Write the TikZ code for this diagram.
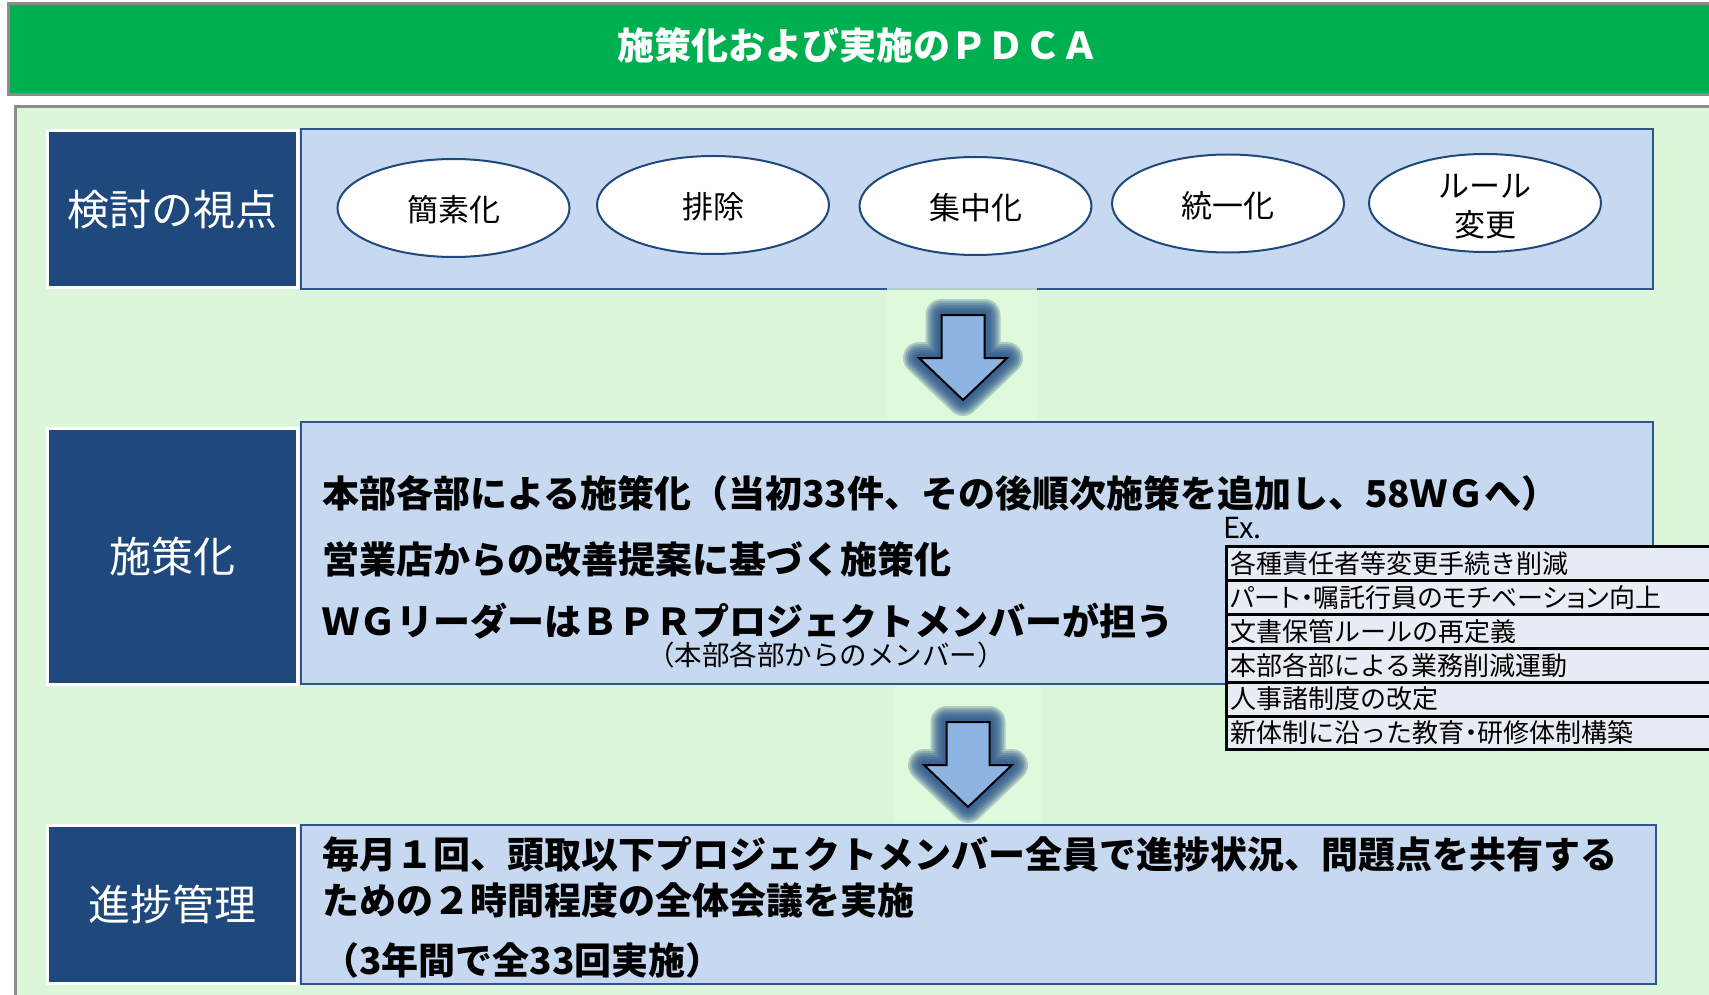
\documentclass[tikz,border=0pt]{standalone}
\usepackage{fontspec}
\newfontfamily\jp{Noto Sans CJK JP}
\usetikzlibrary{shapes.geometric}
\definecolor{bannergreen}{HTML}{00AF50}
\definecolor{graybd}{HTML}{8C8C8C}
\definecolor{panelgreen}{HTML}{DCF6D9}
\definecolor{plaingreen}{HTML}{E0FBDC}
\definecolor{darkblue}{HTML}{1F497D}
\definecolor{lightblue}{HTML}{C6D9F1}
\definecolor{boxbd}{HTML}{2F5490}
\definecolor{ellbd}{HTML}{1F497D}
\definecolor{arrowblue}{HTML}{8DB4E2}
\definecolor{glowblue}{HTML}{2A5389}
\definecolor{rowfill}{HTML}{E8EDF5}
\newcommand\pdcaarrow[2]{%
  \foreach \w in {32,28,24,20,16,12,8}{
    \draw[glowblue, line width=\w, draw opacity=0.27, line join=round]
      (#1-21.5,#2) -- (#1+21.5,#2) -- (#1+21.5,#2+43) -- (#1+44,#2+43) -- (#1,#2+85)
      -- (#1-44,#2+43) -- (#1-21.5,#2+43) -- cycle;
  }
  \draw[black, fill=arrowblue, line width=2, line join=miter]
      (#1-21.5,#2) -- (#1+21.5,#2) -- (#1+21.5,#2+43) -- (#1+44,#2+43) -- (#1,#2+85)
      -- (#1-44,#2+43) -- (#1-21.5,#2+43) -- cycle;
}
\tikzset{
  labelbox/.style={draw=white, line width=3, fill=darkblue, text=white, inner sep=0, outer sep=0,
    minimum width=250, font=\jp\fontsize{42}{50}\selectfont},
  contentbox/.style={draw=boxbd, line width=2, fill=lightblue, inner sep=0, outer sep=0},
  oval/.style={ellipse, draw=ellbd, line width=2, fill=white, minimum width=232, minimum height=98,
    inner sep=0, align=center, font=\jp\fontsize{31}{39}\selectfont},
  ovaltext/.style={inner sep=0, align=center, font=\jp\fontsize{31}{39}\selectfont},
  bigtext/.style={anchor=west, inner sep=0, font=\jp\bfseries\fontsize{37}{44}\selectfont},
  rowbox/.style={anchor=north west, draw=black, line width=3, fill=rowfill, text width=482,
    inner xsep=4, inner ysep=0, minimum height=33.9, align=left, font=\jp\fontsize{26}{30}\selectfont}
}
\begin{document}
\begin{tikzpicture}[x=1pt,y=-1pt]
\useasboundingbox (0,0) rectangle (1709,995);
\fill[white] (0,0) rectangle (1709,995);
% banner
\draw[draw=graybd, line width=3, fill=bannergreen] (8.5,3.5) rectangle (1715,95);
\node[text=white, inner sep=0, font=\jp\bfseries\fontsize{37}{44}\selectfont] (title) at (858,45) {施策化および実施のＰＤＣＡ};
% panel
\draw[draw=graybd, line width=3, fill=panelgreen] (15.5,106.5) rectangle (1715,1000);

% row 1
\node[labelbox, minimum height=157] (lab1) at (172,209.5) {検討の視点};
\node[contentbox, minimum width=1352, minimum height=160] (box1) at (977,209) {};
\node[oval] (e1) at (453.5,208) {};
\node[ovaltext] (e1t) at (453.5,210) {簡素化};
\node[oval] (e2) at (713,205) {};
\node[ovaltext] (e2t) at (713,207) {排除};
\node[oval] (e3) at (975.5,206) {};
\node[ovaltext] (e3t) at (975.5,208) {集中化};
\node[oval] (e4) at (1228,203.5) {};
\node[ovaltext] (e4t) at (1228,205.5) {統一化};
\node[oval] (e5) at (1485,203) {};
\node[ovaltext] (e5t) at (1485,207) {ルール\\変更};

% arrow 1
\fill[plaingreen, opacity=0.75] (887,288) rectangle (1037,421);
\pdcaarrow{963}{315}

% row 2
\node[labelbox, minimum height=256] (lab2) at (172,556) {施策化};
\node[contentbox, minimum width=1352, minimum height=262] (box2) at (977,553) {};
\node[bigtext] (t21) at (322,493) {本部各部による施策化（当初33件、その後順次施策を追加し、58ＷＧへ）};
\node[bigtext] (t22) at (322,559) {営業店からの改善提案に基づく施策化};
\node[bigtext] (t23) at (322,621) {ＷＧリーダーはＢＰＲプロジェクトメンバーが担う};
\node[inner sep=0, font=\jp\fontsize{27.5}{30}\selectfont] (t24) at (826,655) {（本部各部からのメンバー）};
\node[anchor=west, inner sep=0, font=\jp\fontsize{29}{30}\selectfont] (ex) at (1223,528) {Ex.};

% arrow 2
\fill[plaingreen, opacity=0.75] (893,686) rectangle (1042,823);
\pdcaarrow{968}{722}

% row 3
\node[labelbox, minimum height=158] (lab3) at (172,904.5) {進捗管理};
\node[contentbox, minimum width=1355, minimum height=159] (box3) at (978.5,904.5) {};
\node[bigtext] (t31) at (322,854) {毎月１回、頭取以下プロジェクトメンバー全員で進捗状況、問題点を共有する};
\node[bigtext] (t32) at (322,900) {ための２時間程度の全体会議を実施};
\node[bigtext] (t33) at (322,960) {（3年間で全33回実施）};

% example table
\node[rowbox] (r1) at (1225,545) {各種責任者等変更手続き削減};
\node[rowbox] (r2) at (1225,578.9) {\addfontfeatures{RawFeature=+palt}パート・嘱託行員のモチベーション向上};
\node[rowbox] (r3) at (1225,612.8) {文書保管ルールの再定義};
\node[rowbox] (r4) at (1225,646.7) {本部各部による業務削減運動};
\node[rowbox] (r5) at (1225,680.6) {人事諸制度の改定};
\node[rowbox] (r6) at (1225,714.5) {新体制に沿った教育{\addfontfeatures{RawFeature=+palt}・}研修体制構築};
\end{tikzpicture}
\end{document}
